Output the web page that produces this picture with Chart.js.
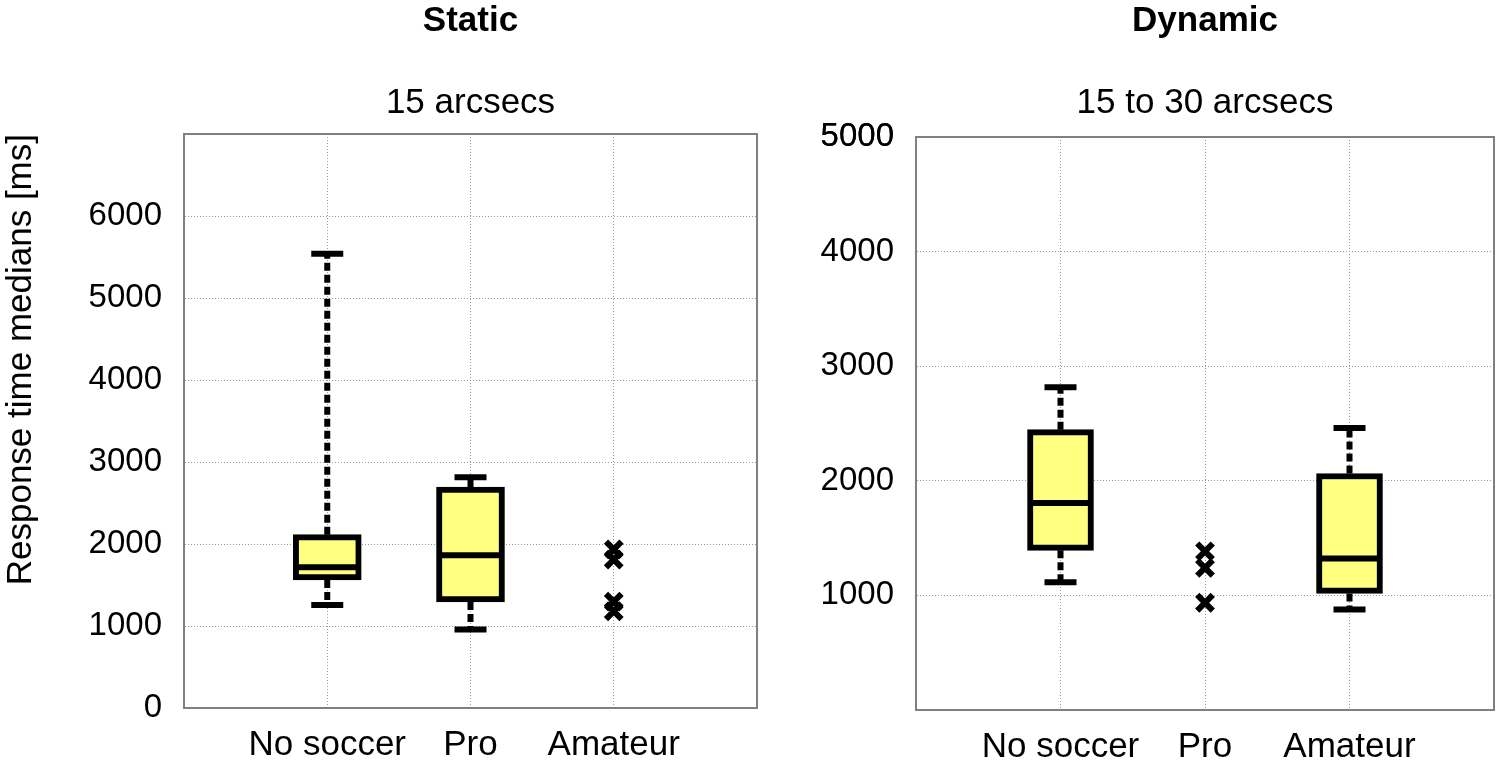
<!DOCTYPE html>
<html>
<head>
<meta charset="utf-8">
<script src="https://cdn.jsdelivr.net/npm/chart.js@4.4.0/dist/chart.umd.min.js"></script>
<style>
  html, body { margin: 0; padding: 0; background: #fff; }
  body { width: 1500px; height: 761px; position: relative; overflow: hidden; }
  .panel { position: absolute; top: 0; height: 761px; }
  #leftPanel { left: 0; width: 760px; }
  #rightPanel { left: 760px; width: 740px; }
</style>
</head>
<body>
<div class="panel" id="leftPanel"><canvas id="staticChart"></canvas></div>
<div class="panel" id="rightPanel"><canvas id="dynamicChart"></canvas></div>
<script>
// categories (blank slots at both ends keep the groups at 1/4, 2/4, 3/4)
const groups = ['No soccer', 'Pro', 'Amateur'];
const axisLabels = ['', 'No soccer', 'Pro', 'Amateur', ''];

// Static, 15 arcsecs
const staticLow = [1257, 957, null];
const staticQ1 = [1562, 1294, null];
const staticMedian = [1716, 1862, null];
const staticQ3 = [2114, 2693, null];
const staticHigh = [5541, 2815, null];
const staticOutliers = [[], [], [1935, 1810, 1298, 1180]];
const staticTicks = [0, 1000, 2000, 3000, 4000, 5000, 6000];

// Dynamic, 15 to 30 arcsecs
const dynamicLow = [1115, null, 878];
const dynamicQ1 = [1393, null, 1017];
const dynamicMedian = [1807, null, 1321];
const dynamicQ3 = [2446, null, 2064];
const dynamicHigh = [2817, null, 2461];
const dynamicOutliers = [[], [1385, 1240, 936], []];
const dynamicTicks = [1000, 2000, 3000, 4000, 5000];

const FONT = '"Liberation Sans", Arial, Helvetica, sans-serif';
const BOX_FILL = '#ffff80';
const FRAME = '#808080';
const GRID = '#9a9a9a';

function buildDatasets(low, q1, median, q3, high, outliers, boxWidth) {
    const boxes = axisLabels.map(function (label) {
        const i = groups.indexOf(label);
        if (i < 0 || q1[i] == null) return null;
        return [q1[i], q3[i]];
    });

    const whiskers = [];
    const caps = [];
    const medians = [];
    const dots = [];
    groups.forEach(function (g, i) {
        if (high[i] != null) {
            whiskers.push({x: g, y: q3[i]}, {x: g, y: high[i]}, {x: g, y: null});
            whiskers.push({x: g, y: q1[i]}, {x: g, y: low[i]}, {x: g, y: null});
            caps.push({x: g, y: low[i]}, {x: g, y: high[i]});
            medians.push({x: g, y: median[i]});
        }
        outliers[i].forEach(function (v) { dots.push({x: g, y: v}); });
    });

    return [
        {
            type: 'line', label: 'whiskers', data: whiskers, order: 3,
            borderColor: '#000', borderWidth: 6, borderDash: [8, 4],
            pointRadius: 0, spanGaps: false, fill: false
        },
        {
            type: 'bar', label: 'box', data: boxes, order: 2,
            backgroundColor: BOX_FILL, borderColor: '#000', borderWidth: 6,
            borderSkipped: false, barThickness: boxWidth
        },
        {
            type: 'line', label: 'median', data: medians, order: 1, showLine: false,
            pointStyle: 'line', pointRadius: boxWidth / 2 - 2, pointBorderWidth: 6,
            pointBorderColor: '#000'
        },
        {
            type: 'line', label: 'caps', data: caps, order: 1, showLine: false,
            pointStyle: 'line', pointRadius: 16, pointBorderWidth: 6,
            pointBorderColor: '#000'
        },
        {
            type: 'line', label: 'outliers', data: dots, order: 0, showLine: false,
            pointStyle: 'crossRot', pointRadius: 11, pointBorderWidth: 6,
            pointBorderColor: '#000'
        }
    ];
}

// no side padding from label overflow, the frame should fill the panel
function noSidePadding(scale) {
    scale.paddingLeft = 0;
    scale.paddingRight = 0;
}

function makeChart(canvasId, opts) {
    const ctx = document.getElementById(canvasId).getContext('2d');
    return new Chart(ctx, {
        type: 'bar',
        data: {
            labels: axisLabels,
            datasets: buildDatasets(opts.low, opts.q1, opts.median, opts.q3, opts.high, opts.outliers, opts.boxWidth)
        },
        options: {
            responsive: true,
            maintainAspectRatio: false,
            animation: false,
            events: [],
            layout: {
                autoPadding: false,   // wide median markers would otherwise push the frame in
                padding: { left: 0, right: opts.padRight, top: 0, bottom: 0 }
            },
            plugins: {
                legend: { display: false },
                tooltip: { enabled: false },
                title: {
                    display: true, text: opts.title, fullSize: false, color: '#000',
                    font: { family: FONT, size: 35, weight: 'bold', lineHeight: 1.2 },
                    padding: { top: 0, bottom: 18 }
                },
                subtitle: {
                    display: true, text: opts.subtitle, fullSize: false, color: '#000',
                    font: { family: FONT, size: 35, lineHeight: 1.2 },
                    padding: { top: 22, bottom: opts.subBottom }
                }
            },
            scales: {
                x: {
                    type: 'category', position: 'bottom', offset: false,
                    grid: { display: true, offset: false, color: GRID, lineWidth: 1, drawTicks: false },
                    border: { display: true, color: FRAME, width: 2, dash: [1, 2] },
                    ticks: { color: '#000', font: { family: FONT, size: 35 }, padding: 16, maxRotation: 0, autoSkip: false },
                    afterFit: function (scale) {
                        scale.height = opts.xHeight;
                        noSidePadding(scale);
                    }
                },
                xTop: {
                    type: 'category', position: 'top', offset: false,
                    grid: { display: false },
                    border: { display: true, color: FRAME, width: 2 },
                    ticks: { display: false },
                    afterFit: function (scale) { scale.height = 0; noSidePadding(scale); }
                },
                y: {
                    type: 'linear', position: 'left', min: 0, max: opts.max,
                    grid: { color: GRID, lineWidth: 1, drawTicks: false },
                    border: { display: true, color: FRAME, width: 2, dash: [1, 2] },
                    afterBuildTicks: function (scale) {
                        scale.ticks = opts.ticks.map(function (v) { return {value: v}; }).concat([{value: opts.max}]);
                    },
                    ticks: {
                        color: '#000', font: { family: FONT, size: 33 }, padding: 22,
                        callback: function (v) { return opts.ticks.indexOf(v) >= 0 ? String(v) : ''; }
                    },
                    title: opts.yTitle ? {
                        display: true, text: opts.yTitle, align: 'end', color: '#000',
                        font: { family: FONT, size: 35, lineHeight: 1.2 }, padding: { top: 0, bottom: 0 }
                    } : { display: false },
                    afterFit: function (scale) { scale.width = opts.yWidth; noSidePadding(scale); }
                },
                yRight: {
                    type: 'linear', position: 'right', min: 0, max: opts.max,
                    grid: { display: false },
                    border: { display: true, color: FRAME, width: 2 },
                    ticks: { display: false },
                    afterFit: function (scale) { scale.width = 0; noSidePadding(scale); }
                }
            }
        }
    });
}

makeChart('staticChart', {
    title: 'Static', subtitle: '15 arcsecs', subBottom: 10,
    low: staticLow, q1: staticQ1, median: staticMedian, q3: staticQ3, high: staticHigh,
    outliers: staticOutliers, ticks: staticTicks, max: 7000, boxWidth: 68,
    yTitle: 'Response time medians [ms]', yWidth: 184, xHeight: 53, padRight: 3
});

makeChart('dynamicChart', {
    title: 'Dynamic', subtitle: '15 to 30 arcsecs', subBottom: 13,
    low: dynamicLow, q1: dynamicQ1, median: dynamicMedian, q3: dynamicQ3, high: dynamicHigh,
    outliers: dynamicOutliers, ticks: dynamicTicks, max: 5000, boxWidth: 66,
    yTitle: null, yWidth: 156, xHeight: 51, padRight: 6
});
</script>
</body>
</html>
